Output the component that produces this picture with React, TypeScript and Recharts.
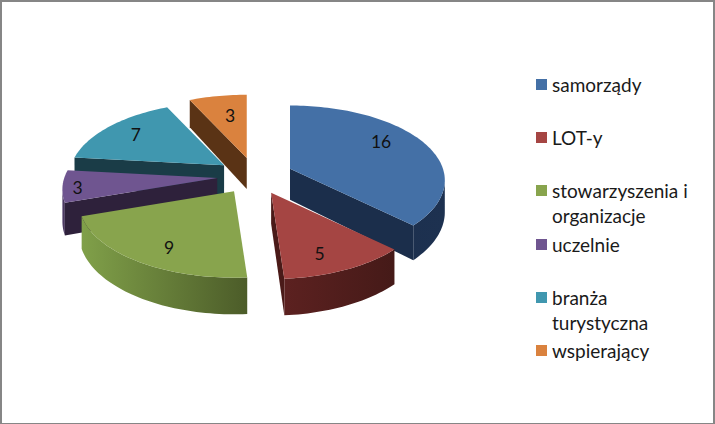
import { PieChart, Pie, Legend } from 'recharts';

// legend order, clockwise from the top of the pie
const categories = ['samorządy', 'LOT-y', 'stowarzyszenia i organizacje', 'uczelnie', 'branża turystyczna', 'wspierający'];
const values = [16, 5, 9, 3, 7, 3];
const topColors = ['#4470a6', '#a54543', '#88a44d', '#6f5590', '#4097af', '#da823e'];
const cutColors = ['#1b2e4b', '#4a1a18', '#4d5f2a', '#2e213b', '#1a3c47', '#5a3315'];
const wallLeft = ['#1b2e4b', '#5c2120', '#80a049', '#53406c', '#27606f', '#8a5020'];
const wallRight = ['#1d3150', '#451a18', '#4c5c29', '#2e213b', '#1a3c47', '#5a3315'];
const labelFrac = [0.65, 0.7, 0.75, 0.93, 0.78, 0.7];
const labelDx = [3, -2, 5, 4, 2.5, 4.5];
const labelDy = [-9, 10, 6, 2, 0, 3];

// later slices paint over earlier ones; going anticlockwise from blue gives the right stacking
const drawOrder = [0, 5, 4, 3, 2, 1];
const pieData = drawOrder.map((i) => ({ name: categories[i], value: values[i], fill: topColors[i], idx: i }));
const total = values.reduce((a, b) => a + b, 0);
const START_ANGLE = 90 - (360 * values[0]) / total;

const CX = 255;
const CY = 176;
const RX = 153;
const RY = 73;
const PERSPECTIVE = 0.154;
const DEPTH = 31;
const EXPLODE = 38;
const FONT = 'Lato, sans-serif';
const RAD = Math.PI / 180;

function apexOf(cx: number, cy: number, mid: number) {
  return {
    x: cx + EXPLODE * Math.cos(mid * RAD),
    y: cy - EXPLODE * 0.485 * Math.sin(mid * RAD),
  };
}

function project(apex: { x: number; y: number }, angle: number, frac: number, z: number) {
  const ux = Math.cos(angle * RAD) * frac;
  const uy = -Math.sin(angle * RAD) * frac;
  const s = 1 / (1 - PERSPECTIVE * uy);
  return { x: apex.x + RX * ux * s, y: apex.y + (RY * uy + z) * s };
}

type P = { x: number; y: number };
const toPath = (pts: P[]) => 'M' + pts.map((p) => `${p.x.toFixed(2)},${p.y.toFixed(2)}`).join('L') + 'Z';

function SliceShape(props: any) {
  const { cx, cy, startAngle, endAngle, midAngle, payload, idx: idxProp } = props;
  const idx = idxProp ?? payload?.idx ?? 0;
  const apex = apexOf(cx, cy, midAngle);
  const lower = { x: apex.x, y: apex.y + DEPTH };

  const steps = Math.max(8, Math.ceil((endAngle - startAngle) / 1.5));
  const angles: number[] = [];
  for (let i = 0; i <= steps; i++) angles.push(endAngle - ((endAngle - startAngle) * i) / steps);
  const rim = angles.map((a) => project(apex, a, 1, 0));
  const rimLow = angles.map((a) => project(apex, a, 1, DEPTH));

  // outer wall: only the stretch of rim running right to left faces the viewer
  const run: number[] = [];
  for (let i = 0; i < rim.length - 1; i++) {
    if (rim[i + 1].x < rim[i].x) {
      if (run.length === 0) run.push(i);
      run.push(i + 1);
    }
  }
  const wallPts = [...run.map((i) => rim[i]), ...run.slice().reverse().map((i) => rimLow[i])];
  const xs = rim.map((p) => p.x);
  const gradId = `wall-${idx}`;
  const first = rim[0];
  const last = rim[rim.length - 1];

  return (
    <g>
      <defs>
        <linearGradient id={gradId} gradientUnits="userSpaceOnUse" x1={Math.min(...xs)} x2={Math.max(...xs)} y1={0} y2={0}>
          <stop offset="0" stopColor={wallLeft[idx]} />
          <stop offset="1" stopColor={wallRight[idx]} />
        </linearGradient>
      </defs>
      {first.x < apex.x && (
        <path d={toPath([apex, first, rimLow[0], lower])} fill={cutColors[idx]} />
      )}
      {apex.x < last.x && (
        <path d={toPath([last, apex, lower, rimLow[rimLow.length - 1]])} fill={cutColors[idx]} />
      )}
      {run.length > 1 && <path d={toPath(wallPts)} fill={`url(#${gradId})`} />}
      <path d={toPath([apex, ...rim])} fill={topColors[idx]} />
    </g>
  );
}

function SliceLabel(props: any) {
  const { cx, cy, midAngle, value, payload, idx: idxProp } = props;
  const idx = idxProp ?? payload?.idx ?? 0;
  const apex = apexOf(cx, cy, midAngle);
  const p = project(apex, midAngle, labelFrac[idx], 0);
  return (
    <text
      x={p.x + labelDx[idx]}
      y={p.y + labelDy[idx]}
      textAnchor="middle"
      dominantBaseline="central"
      fontFamily={FONT}
      fontSize={17.5}
      fill="#111"
    >
      {value}
    </text>
  );
}

function LegendBox() {
  return (
    <div style={{ fontFamily: FONT, fontSize: 19, lineHeight: '25px', color: '#1a1a1a' }}>
      {categories.map((name, i) => (
        <div key={name} style={{ position: 'relative', height: 53.2 }}>
          <span
            style={{ position: 'absolute', left: 0, top: 5, width: 11, height: 11, background: topColors[i] }}
          />
          <span style={{ position: 'absolute', left: 16, top: -2, width: 150 }}>{name}</span>
        </div>
      ))}
    </div>
  );
}

export default function App() {
  return (
    <div style={{ position: 'absolute', left: 0, top: 0, width: 715, height: 424, background: '#fff' }}>
      <PieChart width={715} height={424} margin={{ top: 0, right: 0, bottom: 0, left: 0 }}>
        <Pie
          data={pieData}
          dataKey="value"
          nameKey="name"
          cx={CX}
          cy={CY}
          outerRadius={RX}
          startAngle={START_ANGLE}
          endAngle={START_ANGLE + 360}
          stroke="none"
          shape={SliceShape}
          label={SliceLabel}
          labelLine={false}
          isAnimationActive={false}
        />
        <Legend
          layout="vertical"
          align="right"
          verticalAlign="top"
          content={LegendBox}
          wrapperStyle={{ left: 536, top: 74, width: 170 }}
        />
      </PieChart>
      <div
        style={{
          position: 'absolute',
          inset: 0,
          boxSizing: 'border-box',
          borderStyle: 'solid',
          borderColor: '#868686',
          borderWidth: '2px 2px 1px 2px',
          pointerEvents: 'none',
        }}
      />
    </div>
  );
}
